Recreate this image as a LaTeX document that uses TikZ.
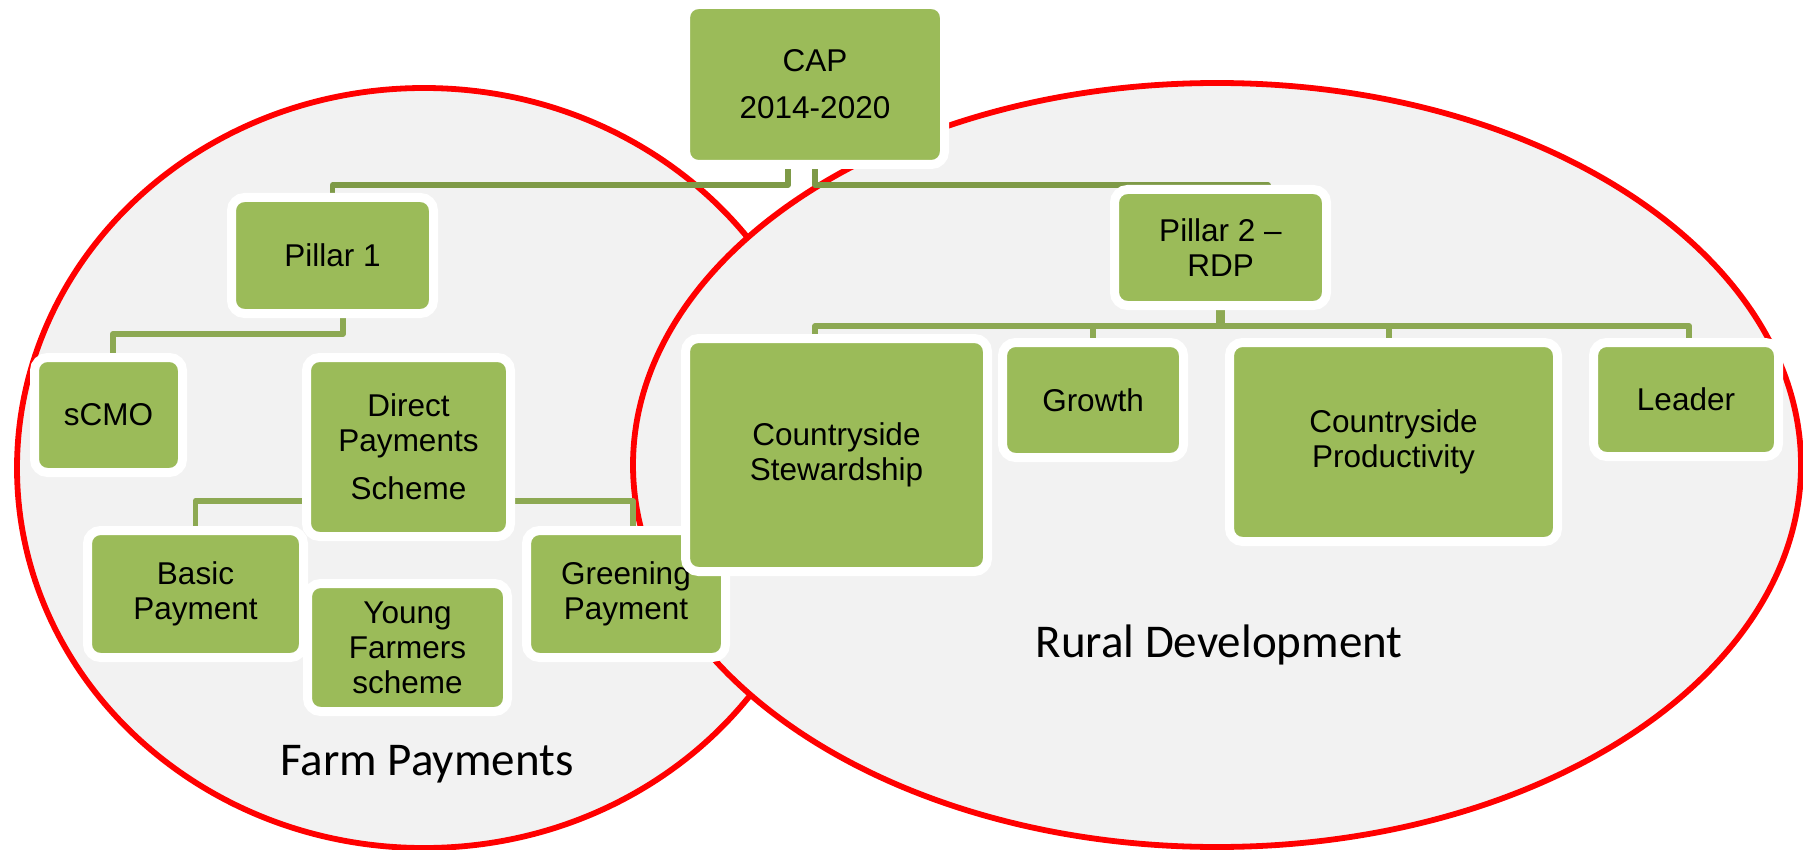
\documentclass[tikz,border=0pt]{standalone}
\usepackage{fontspec}
\setmainfont{Liberation Sans}
\newfontfamily\calibfont{Carlito}
\definecolor{boxgreen}{HTML}{9BBB59}
\definecolor{conndark}{HTML}{7E9A47}
\definecolor{connmid}{HTML}{8DA953}
\definecolor{ellfill}{HTML}{F2F2F2}
\definecolor{ellred}{HTML}{FF0000}
\pgfdeclarelayer{back}
\pgfdeclarelayer{mid}
\pgfsetlayers{back,mid,main}
\begin{document}
\begin{tikzpicture}[x=0.5pt,y=-0.5pt,
  gbox/.style={rectangle, rounded corners=6.5pt, fill=boxgreen, draw=white,
    line width=4.5pt, inner sep=0pt, outer sep=0pt, align=center,
    font=\fontsize{15.75}{17.5}\selectfont, text=black},
  conn/.style={line width=2.9pt, draw=connmid, line join=round},
  topconn/.style={conn, line width=2.7pt, draw=conndark},
  ell/.style={fill=ellfill, draw=ellred, line width=2.9pt},
  lbl/.style={font=\calibfont\fontsize{23.5}{28}\selectfont, inner sep=0pt, anchor=base}]
\useasboundingbox (0,0) rectangle (1803,850);

% boxes
\node[gbox, minimum width=129.5pt, minimum height=80pt] (cap) at (815,84.5) {CAP\\[6pt]2014-2020};
\node[gbox, minimum width=101pt, minimum height=58pt] (p1) at (332.5,255.5) {Pillar 1};
\node[gbox, minimum width=74pt, minimum height=57.5pt] (scmo) at (108.5,415) {sCMO};
\node[gbox, minimum width=102pt, minimum height=89.5pt] (dp) at (408.5,447) {Direct\\Payments\\[6.5pt]Scheme};
\node[gbox, minimum width=108pt, minimum height=63.5pt] (basic) at (195.5,594) {Basic\\Payment};
\node[gbox, minimum width=100pt, minimum height=64pt] (young) at (407.5,647.5) {Young\\Farmers\\scheme};
\node[gbox, minimum width=99.5pt, minimum height=63.5pt] (grn) at (626,594) {Greening\\Payment};
\node[gbox, minimum width=106pt, minimum height=58pt] (p2) at (1220.5,247.5) {Pillar 2 --\\RDP};
\node[gbox, minimum width=151pt, minimum height=116.5pt] (cs) at (836.5,455) {Countryside\\Stewardship};
\node[gbox, minimum width=90.5pt, minimum height=57.5pt] (growth) at (1093,400) {Growth};
\node[gbox, minimum width=164pt, minimum height=99.5pt] (cprod) at (1393.5,442) {Countryside\\Productivity};
\node[gbox, minimum width=92.5pt, minimum height=57pt] (leader) at (1686,399.5) {Leader};

% area labels
\node[lbl] (farm) at (427,775) {Farm Payments};
\node[lbl] (rural) at (1219,657) {Rural Development};

\begin{pgfonlayer}{back}
  \fill[white] (0,0) rectangle (1803,850);
  \draw[ell] (424,468) ellipse [x radius=203.5pt, y radius=190pt];
  \draw[ell] (1217,465) ellipse [x radius=292pt, y radius=191pt];
\end{pgfonlayer}

\begin{pgfonlayer}{mid}
  \draw[topconn] ([xshift=-13.5pt]cap.south) -- ++(0,20.5) -| (p1.north);
  \draw[topconn] (cap.south) -- ++(0,20.5) -| ([xshift=23.75pt]p2.north);
  \draw[conn] ([xshift=5.25pt]p1.south) -- ++(0,20.5) -| ([xshift=2.25pt]scmo.north);
  \draw[conn] ([yshift=-27pt]dp.west) -| (basic.north);
  \draw[conn] ([yshift=-27pt]dp.east) -| ([xshift=3.5pt]grn.north);
  \draw[conn, line width=4.2pt] (p2.south) -- ++(0,20.5) coordinate (hub);
  \draw[conn] (hub) -| ([xshift=-10.75pt]cs.north);
  \draw[conn] (hub) -| (growth.north);
  \draw[conn] (hub) -| ([xshift=-2.25pt]cprod.north);
  \draw[conn] (hub) -| ([xshift=1.5pt]leader.north);
\end{pgfonlayer}
\end{tikzpicture}
\end{document}
